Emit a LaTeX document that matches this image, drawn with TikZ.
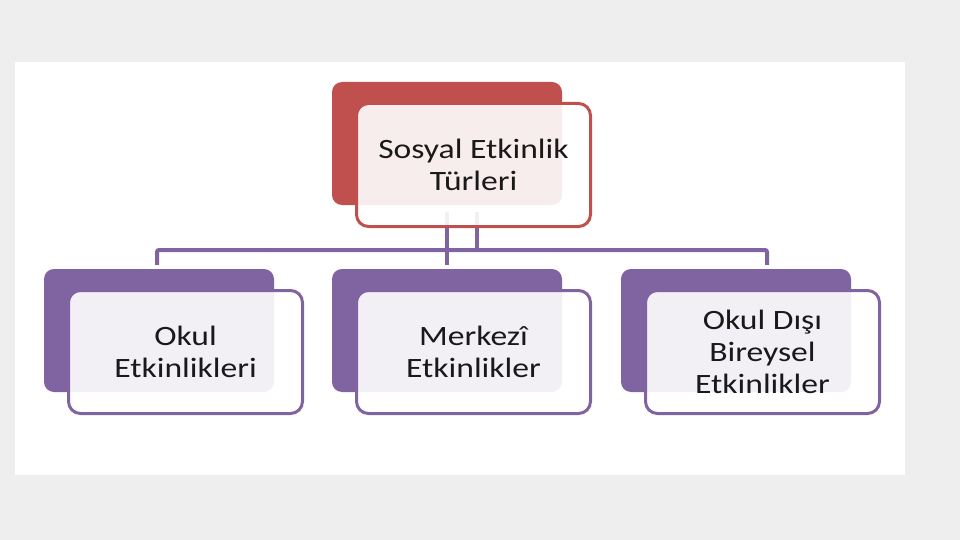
\documentclass[tikz,border=0pt]{standalone}
\usepackage{fontspec}
\setmainfont{Carlito}[FakeStretch=1.2]
\definecolor{panelgrey}{HTML}{EEEEEE}
\definecolor{topred}{HTML}{C0504D}
\definecolor{subpurple}{HTML}{8064A2}
\begin{document}
\begin{tikzpicture}[x=1pt,y=-1pt,
		backbox/.style={rounded corners=10pt, minimum width=230pt, minimum height=123pt, inner sep=0pt},
		frontbox/.style={draw, line width=3pt, rounded corners=12pt, fill=white, fill opacity=0.9, text opacity=1, minimum width=234pt, minimum height=123pt, align=center, text=black!90, font=\fontsize{28}{32}\selectfont},
		conn/.style={subpurple, line width=4pt}]
		\useasboundingbox (0,0) rectangle (960,540);
		\fill[panelgrey] (0,0) rectangle (960,540);
		\fill[white] (15,62) rectangle (905,475);
		% coloured boxes behind
		\node[backbox, fill=topred] (topback) at (447,143.5) {};
		\node[backbox, fill=subpurple] (leftback) at (159,330.5) {};
		\node[backbox, fill=subpurple] (midback) at (447,330.5) {};
		\node[backbox, fill=subpurple] (rightback) at (736,330.5) {};
		% connectors
		\coordinate (barL) at (157,250);
		\coordinate (barR) at (767,250);
		\draw[conn, rounded corners=2pt, shorten <=4pt, shorten >=4pt] (barL |- leftback.north) -- (barL) -- (barR) -- (barR |- rightback.north);
		\draw[conn, shorten <=7pt, shorten >=4pt] (topback.south) -- (midback.north);
		\draw[conn, shorten <=7pt] ([xshift=30pt]topback.south) -- ([xshift=30pt]topback.south |- barL);
		% text boxes in front
		\node[frontbox, draw=topred] (topfront) at (473.5,165) {Sosyal Etkinlik\\Türleri};
		\node[frontbox, draw=subpurple] (leftfront) at (185.5,352) {Okul\\Etkinlikleri};
		\node[frontbox, draw=subpurple] (midfront) at (473.5,352) {Merkezî\\Etkinlikler};
		\node[frontbox, draw=subpurple] (rightfront) at (762.5,352) {Okul Dışı\\Bireysel\\Etkinlikler};
	\end{tikzpicture}
\end{document}
